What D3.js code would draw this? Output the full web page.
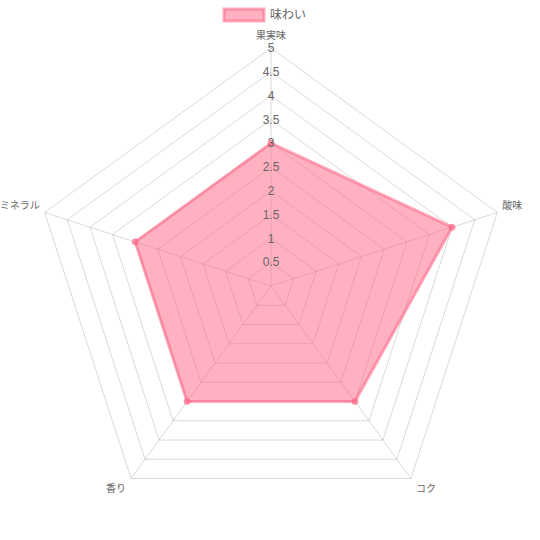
<!DOCTYPE html>
<html>
<head>
<meta charset="utf-8">
<script src="https://cdn.jsdelivr.net/npm/d3@7"></script>
<style>
  body { margin: 0; background: #fff; }
  svg { display: block; font-family: "Helvetica Neue", Helvetica, Arial, "Noto Sans CJK JP", sans-serif; }
</style>
</head>
<body>
<div id="renderDiv"></div>
<script>
// data
const axes = ["果実味", "酸味", "コク", "香り", "ミネラル"];
const values = [3, 4, 3, 3, 3];
const seriesName = "味わい";
const ticks = [0.5, 1, 1.5, 2, 2.5, 3, 3.5, 4, 4.5, 5];

const W = 540, H = 540;
const cx = 271, cy = 286, R = 238;

let svg = d3.select("#renderDiv").append("svg")
    .attr("width", W).attr("height", H);

let rScale = d3.scaleLinear().domain([0, 5]).range([0, R]);
let angle = i => -Math.PI / 2 + i * 2 * Math.PI / axes.length;
let pt = (i, v) => [cx + rScale(v) * Math.cos(angle(i)), cy + rScale(v) * Math.sin(angle(i))];

// grid polygons
let grid = svg.append("g");
grid.selectAll("path.ring")
    .data(ticks)
    .enter().append("path")
    .attr("class", "ring")
    .attr("d", t => "M" + axes.map((a, i) => pt(i, t)).join("L") + "Z")
    .attr("fill", "none")
    .attr("stroke", "rgba(0,0,0,0.15)")
    .attr("stroke-width", 1);

// spokes
grid.selectAll("line.spoke")
    .data(axes)
    .enter().append("line")
    .attr("class", "spoke")
    .attr("x1", cx).attr("y1", cy)
    .attr("x2", (d, i) => pt(i, 5)[0])
    .attr("y2", (d, i) => pt(i, 5)[1])
    .attr("stroke", "rgba(0,0,0,0.15)")
    .attr("stroke-width", 1);

// data area
let line = d3.lineRadial()
    .angle((d, i) => i * 2 * Math.PI / axes.length)
    .radius(d => rScale(d))
    .curve(d3.curveLinearClosed);

svg.append("path")
    .datum(values)
    .attr("transform", "translate(" + cx + "," + cy + ")")
    .attr("d", line)
    .attr("fill", "rgba(255,99,132,0.5)")
    .attr("stroke", "rgba(255,99,132,0.55)")
    .attr("stroke-width", 3)
    .attr("stroke-linejoin", "round");

svg.append("g").selectAll("circle")
    .data(values)
    .enter().append("circle")
    .attr("cx", (d, i) => pt(i, d)[0])
    .attr("cy", (d, i) => pt(i, d)[1])
    .attr("r", 3)
    .attr("fill", "rgba(255,99,132,0.6)")
    .attr("stroke", "rgba(255,99,132,0.6)")
    .attr("stroke-width", 1);

// tick labels
svg.append("g").selectAll("text")
    .data(ticks)
    .enter().append("text")
    .attr("x", cx)
    .attr("y", t => cy - rScale(t))
    .attr("dy", "0.35em")
    .attr("text-anchor", "middle")
    .attr("font-size", 12)
    .attr("fill", "#666")
    .text(t => t);

// point labels
svg.append("g").selectAll("text")
    .data(axes)
    .enter().append("text")
    .attr("x", (d, i) => {
        let p = pt(i, 5);
        let c = Math.cos(angle(i));
        return p[0] + (Math.abs(c) < 0.1 ? 0 : (c > 0 ? 5 : -5));
    })
    .attr("y", (d, i) => {
        let p = pt(i, 5);
        let s = Math.sin(angle(i));
        if (s < -0.9) return p[1] - 9;
        if (s > 0.5) return p[1] + 13;
        return p[1] - 3;
    })
    .attr("text-anchor", (d, i) => {
        let c = Math.cos(angle(i));
        if (Math.abs(c) < 0.1) return "middle";
        return c > 0 ? "start" : "end";
    })
    .attr("font-size", 10)
    .attr("fill", "#666")
    .text(d => d);

// legend
let legend = svg.append("g");
legend.append("rect")
    .attr("x", 224).attr("y", 9)
    .attr("width", 40).attr("height", 12)
    .attr("fill", "rgba(255,99,132,0.5)")
    .attr("stroke", "rgba(255,99,132,0.55)")
    .attr("stroke-width", 3);
legend.append("text")
    .attr("x", 270).attr("y", 15)
    .attr("dy", "0.35em")
    .attr("font-size", 12)
    .attr("fill", "#666")
    .text(seriesName);
</script>
</body>
</html>
